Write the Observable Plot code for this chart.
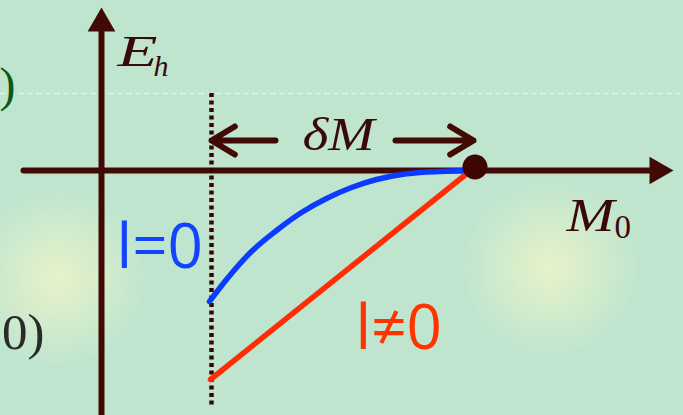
<!DOCTYPE html>
<html><head><meta charset="utf-8">
<script src="https://cdn.jsdelivr.net/npm/d3@7"></script>
<script src="https://cdn.jsdelivr.net/npm/@observablehq/plot@0.6"></script>
<style>html,body{margin:0;padding:0;background:#bfe5cf;overflow:hidden}</style>
</head><body>
<script>
// Diagram coordinates: M0 (x) and E_h (y); origin at the axes crossing
const axisH = [{x: -0.78, y: 0}, {x: 5.5, y: 0}];
const axisV = [{x: 0, y: -2.45}, {x: 0, y: 1.45}];
const arrowHeads = [{x: 5.56, y: 0, rot: 90}, {x: 0, y: 1.47, rot: 0}];
const thresholdX = 1.10;
const thresholdY = [0.77, -2.37];
const blueX = [1.08, 1.25, 1.50, 1.75, 2.00, 2.25, 2.50, 2.75, 3.00, 3.25, 3.50, 3.70];
const blueY = [-1.31, -1.09, -0.81, -0.60, -0.42, -0.28, -0.17, -0.09, -0.04, -0.015, -0.005, 0];
const redX = [1.09, 3.73];
const redY = [-2.09, 0.03];
const endPoint = [{x: 3.735, y: 0.035}];
const deltaArrows = [{x1: 1.94, x2: 1.10, y: 0.30}, {x1: 2.74, x2: 3.72, y: 0.30}];
const mathLabels = [
  {x: 0.16, y: 1.05, text: "E"},
  {x: 2.01, y: 0.21, text: "δM"},
  {x: 4.65, y: -0.60, text: "M"}
];
const subLabels = [
  {x: 0.52, y: 0.95, text: "h", italic: "italic"},
  {x: 5.13, y: -0.67, text: "0", italic: "normal"}
];
const seriesLabels = [
  {x: 0.15, y: -0.97, text: "l=0", color: "#1243ff"},
  {x: 2.54, y: -1.78, text: "l≠0", color: "#ff3300"}
];
const edgeLabels = [
  {x: -0.86, y: 0.70, text: ")", color: "#0b5a18"},
  {x: -0.57, y: -1.78, text: "0)", color: "#2a2a2a"}
];
const guideY = [0.77];

// styling
const dark = "#420a05";
const mathSizes = [44, 46, 46];
const mathWidths = [40, 72, 48];
const subSizes = [30, 33];
const edgeSizes = [48, 51];

const blue = blueX.map((x, i) => ({x, y: blueY[i]}));
const red = redX.map((x, i) => ({x, y: redY[i]}));

const chart = Plot.plot({
  width: 683,
  height: 415,
  margin: 0,
  x: {domain: [-1.01, 5.82], axis: null},
  y: {domain: [-2.45, 1.70], axis: null},
  style: {
    background: "radial-gradient(circle at 58px 278px, rgba(238,245,200,0.85) 0px, rgba(238,245,200,0) 90px), radial-gradient(circle at 550px 268px, rgba(238,245,200,0.85) 0px, rgba(238,245,200,0) 90px), #bfe5cf",
    overflow: "hidden"
  },
  marks: [
    Plot.ruleY(guideY, {stroke: "white", strokeOpacity: 0.45, strokeWidth: 1.5, strokeDasharray: "6,3"}),
    Plot.line(axisH, {x: "x", y: "y", stroke: dark, strokeWidth: 6}),
    Plot.line(axisV, {x: "x", y: "y", stroke: dark, strokeWidth: 6}),
    Plot.dot(arrowHeads, {x: "x", y: "y", rotate: "rot", symbol: "triangle", r: 10.3, fill: dark, stroke: null}),
    Plot.ruleX([thresholdX], {y1: thresholdY[0], y2: thresholdY[1], stroke: "#3a0604", strokeWidth: 4.5, strokeDasharray: "4,3.5"}),
    Plot.line(blue, {x: "x", y: "y", stroke: "#0a3bff", strokeWidth: 5.5, curve: "monotone-x"}),
    Plot.line(red, {x: "x", y: "y", stroke: "#ff2d05", strokeWidth: 5.5}),
    Plot.dot(endPoint, {x: "x", y: "y", r: 12.5, fill: "#3d0603", stroke: null}),
    Plot.arrow(deltaArrows, {x1: "x1", x2: "x2", y1: "y", y2: "y", stroke: dark, strokeWidth: 6, headLength: 6.8, headAngle: 62, insetStart: 20}),
    Plot.text(mathLabels, {x: "x", y: "y", text: "text", fontSize: (d, i) => mathSizes[i], fill: "#3a0808", textAnchor: "start", lineAnchor: "bottom", fontFamily: "Liberation Serif", fontStyle: "italic"}),
    Plot.text(subLabels, {x: "x", y: "y", text: "text", fontSize: (d, i) => subSizes[i], fill: "#3a0808", textAnchor: "start", lineAnchor: "bottom", fontFamily: "Liberation Serif"}),
    Plot.text(seriesLabels, {x: "x", y: "y", text: "text", fill: "color", fontSize: 62, textAnchor: "start", lineAnchor: "bottom", fontFamily: "Open Sans", fontWeight: 400}),
    Plot.text(edgeLabels, {x: "x", y: "y", text: "text", fill: "color", fontSize: (d, i) => edgeSizes[i], textAnchor: "end", lineAnchor: "bottom", fontFamily: "Liberation Serif"})
  ]
});
const textGroups = chart.querySelectorAll('g[aria-label="text"]');
textGroups[0].querySelectorAll("text").forEach((t, i) => {
  t.setAttribute("textLength", mathWidths[i]);
  t.setAttribute("lengthAdjust", "spacingAndGlyphs");
});
textGroups[1].querySelectorAll("text").forEach((t, i) => {
  t.setAttribute("font-style", subLabels[i].italic);
});
document.body.appendChild(chart);
</script>
</body></html>
